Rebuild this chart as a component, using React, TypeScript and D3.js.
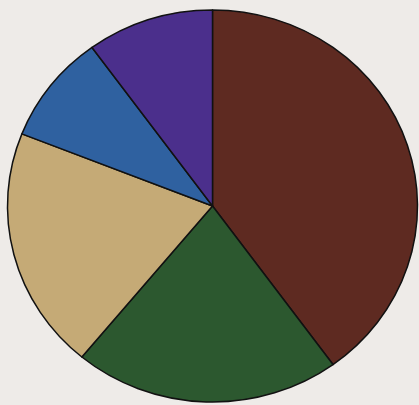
import React from "react";
import * as d3 from "d3";

const categories = ["A", "B", "C", "D", "E"];
const values = [40, 21, 20, 9, 10];
const colors = ["#5e2a21", "#2c582f", "#c5aa76", "#2f61a0", "#4b2f8c"];

const W = 419;
const H = 405;
const cx = 212.5;
const cy = 206;
const rx = 205;
const ry = 196;

export default function App() {
  const pie = d3.pie<number>().sort(null).value((d) => d);
  const arcs = pie(values);
  const arc = d3.arc<d3.PieArcDatum<number>>().innerRadius(0).outerRadius(rx);
  return (
    <svg
      width={W}
      height={H}
      style={{ position: "absolute", left: 0, top: 0, background: "#eeebe8" }}
    >
      <rect width={W} height={H} fill="#eeebe8" />
      <g transform={`translate(${cx},${cy}) scale(1,${ry / rx})`}>
        {arcs.map((a, i) => (
          <path
            key={categories[i]}
            d={arc(a) || ""}
            fill={colors[i]}
            stroke="#111"
            strokeWidth={1.5}
            vectorEffect="non-scaling-stroke"
            strokeLinejoin="round"
          />
        ))}
      </g>
    </svg>
  );
}
